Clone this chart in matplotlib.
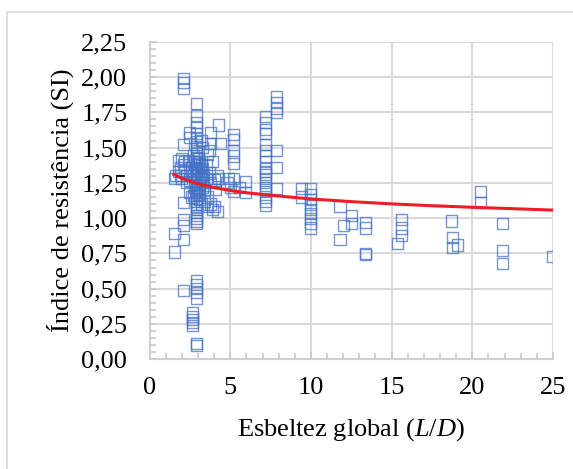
import matplotlib
matplotlib.use('Agg')
import matplotlib.pyplot as plt
from matplotlib.ticker import MultipleLocator, FuncFormatter
from matplotlib.patches import Rectangle

# ensaios: esbeltez global (L/D) e indice de resistencia (SI)
col_x = 2.93
col_si = [1.81, 1.73, 1.68, 1.64, 1.60, 1.57, 1.54, 1.51, 1.48, 1.46, 1.44, 1.42,
          1.40, 1.38, 1.36, 1.34, 1.32, 1.30, 1.28, 1.26, 1.24, 1.22, 1.20, 1.18,
          1.16, 1.14, 1.12, 1.10, 1.08, 1.06, 1.04, 1.02, 1.00, 0.98, 0.96,
          0.56, 0.53, 0.50, 0.47, 0.43, 0.11, 0.10]

low_ld = [2.1, 2.1, 2.1, 4.27, 3.76, 3.76, 2.5, 2.5, 2.1, 4.38, 1.79, 1.58,
          2.1, 2.1, 2.1, 2.1, 1.52, 1.52, 2.1, 2.68, 2.68, 2.68, 2.68, 2.68,
          1.6, 1.8, 1.9, 2.0, 2.1, 2.2, 2.3, 2.4, 2.5, 2.6, 2.7, 2.7, 2.8, 2.8,
          2.5, 2.6, 2.3, 2.2, 2.0, 1.9,
          3.1, 3.2, 3.3, 3.3, 3.4, 3.5, 3.5, 3.6, 3.6, 3.7, 3.8, 3.8, 3.9, 4.0,
          4.0, 4.1, 4.2, 4.2, 3.3, 3.2, 3.7, 3.9, 4.3, 3.4, 3.1, 3.6,
          2.75, 2.8, 2.85, 3.05, 3.1, 3.15, 3.2, 3.0, 3.05, 2.9, 3.1, 3.25,
          3.0, 2.85, 3.15, 3.3, 2.75, 3.05, 3.2, 3.35]
low_si = [1.99, 1.96, 1.92, 1.66, 1.61, 1.53, 1.61, 1.57, 1.52, 1.53, 1.41, 1.28,
          1.11, 0.99, 0.95, 0.85, 0.89, 0.76, 0.49, 0.33, 0.30, 0.28, 0.26, 0.24,
          1.30, 1.33, 1.36, 1.28, 1.38, 1.34, 1.30, 1.41, 1.27, 1.36, 1.32, 1.44,
          1.22, 1.40, 1.18, 1.15, 1.25, 1.40, 1.42, 1.30,
          1.40, 1.30, 1.25, 1.35, 1.20, 1.28, 1.38, 1.45, 1.15, 1.32, 1.25, 1.10,
          1.40, 1.27, 1.08, 1.20, 1.05, 1.30, 1.50, 1.55, 1.48, 1.06, 1.28, 1.12,
          1.18, 1.08,
          1.30, 1.26, 1.35, 1.33, 1.24, 1.29, 1.37, 1.21, 1.17, 1.31, 1.13, 1.27,
          1.39, 1.19, 1.34, 1.22, 1.16, 1.42, 1.10, 1.31]

mid_ld = [5.2, 5.2, 5.2, 5.2, 5.2, 5.2, 5.2, 4.9, 5.0, 4.8, 5.6, 5.93, 5.93,
          7.86, 7.86, 7.86, 7.86, 7.86, 7.86, 7.86,
          7.17, 7.17, 7.17, 7.17, 7.17, 7.17, 7.17, 7.17, 7.17, 7.17, 7.17, 7.17,
          7.17, 7.17, 7.17, 7.17, 7.17, 7.17]
mid_si = [1.59, 1.56, 1.48, 1.44, 1.39, 1.28, 1.19, 1.28, 1.22, 1.25, 1.22, 1.26, 1.18,
          1.86, 1.82, 1.78, 1.75, 1.48, 1.36, 1.21,
          1.72, 1.68, 1.63, 1.60, 1.52, 1.48, 1.44, 1.40, 1.35, 1.33, 1.31, 1.28,
          1.25, 1.22, 1.19, 1.15, 1.12, 1.09]

high_ld = [9.4, 9.4, 10.0, 10.0, 10.0, 10.0, 10.0, 10.0, 10.0, 10.0, 10.0,
           11.8, 12.5, 12.5, 12.0, 11.8, 13.4, 13.4, 13.4, 13.4,
           15.6, 15.6, 15.6, 15.35, 18.7, 18.8, 18.8, 19.1,
           20.5, 20.5, 21.85, 21.85, 21.9, 25.0]
high_si = [1.21, 1.15, 1.21, 1.17, 1.13, 1.10, 1.06, 1.03, 1.00, 0.96, 0.93,
           1.08, 1.02, 0.96, 0.95, 0.85, 0.97, 0.93, 0.75, 0.74,
           0.99, 0.93, 0.88, 0.82, 0.98, 0.86, 0.79, 0.81,
           1.19, 1.11, 0.96, 0.77, 0.68, 0.73]

# linha de tendencia (potencia)
trend_ld = [1.5, 2, 3, 4, 5, 6, 7.5, 10, 12.5, 15, 17.5, 20, 22.5, 25]
trend_si = [1.31, 1.282, 1.243, 1.216, 1.196, 1.18, 1.162, 1.136, 1.117, 1.101,
            1.088, 1.077, 1.067, 1.057]

ld = [col_x] * len(col_si) + low_ld + mid_ld + high_ld
si = col_si + low_si + mid_si + high_si

plt.rcParams['font.family'] = ['Liberation Serif', 'DejaVu Serif']
plt.rcParams['mathtext.fontset'] = 'custom'
plt.rcParams['mathtext.it'] = 'Liberation Serif:italic'
plt.rcParams['mathtext.rm'] = 'Liberation Serif'

fig = plt.figure(figsize=(5.73, 4.69), dpi=100)
fig.patches.append(Rectangle((7 / 573, -0.1), 1.2, (469 - 12) / 469 + 0.1,
                             transform=fig.transFigure, fill=False,
                             edgecolor='#d9d9d9', linewidth=1.2))
ax = fig.add_axes([0.261, 0.234, 0.704, 0.677])

ax.scatter(ld, si, s=64, marker='s', facecolors='none',
           edgecolors='#4472C4', linewidths=1.0, alpha=0.75, zorder=3)
ax.plot(trend_ld, trend_si, color='#EE1C25', linewidth=2.2, zorder=4)

ax.set_xlim(0, 25)
ax.set_ylim(0, 2.25)
ax.xaxis.set_major_locator(MultipleLocator(5))
ax.xaxis.set_minor_locator(MultipleLocator(1))
ax.yaxis.set_major_locator(MultipleLocator(0.25))
ax.yaxis.set_minor_locator(MultipleLocator(0.05))
ax.yaxis.set_major_formatter(FuncFormatter(lambda v, p: f'{v:.2f}'.replace('.', ',')))

ax.grid(which='major', color='#d9d9d9', linewidth=1.5, zorder=0)
ax.set_axisbelow(True)
for s in ['top', 'right']:
    ax.spines[s].set_visible(False)
for s in ['left', 'bottom']:
    ax.spines[s].set_color('#d0d0d0')
    ax.spines[s].set_linewidth(1.5)
ax.tick_params(which='both', direction='in', color='#c8c8c8', labelsize=19,
               width=1.2)
ax.tick_params(which='major', length=5)
ax.tick_params(which='minor', length=4)
ax.tick_params(axis='x', pad=13)
ax.tick_params(axis='y', pad=16)

ax.set_xlabel('Esbeltez global ($\\mathit{L/D}$)', fontsize=19, labelpad=12)
ax.set_ylabel('Índice de resistência (SI)', fontsize=19, labelpad=5)

plt.savefig('out.png', dpi=100)
